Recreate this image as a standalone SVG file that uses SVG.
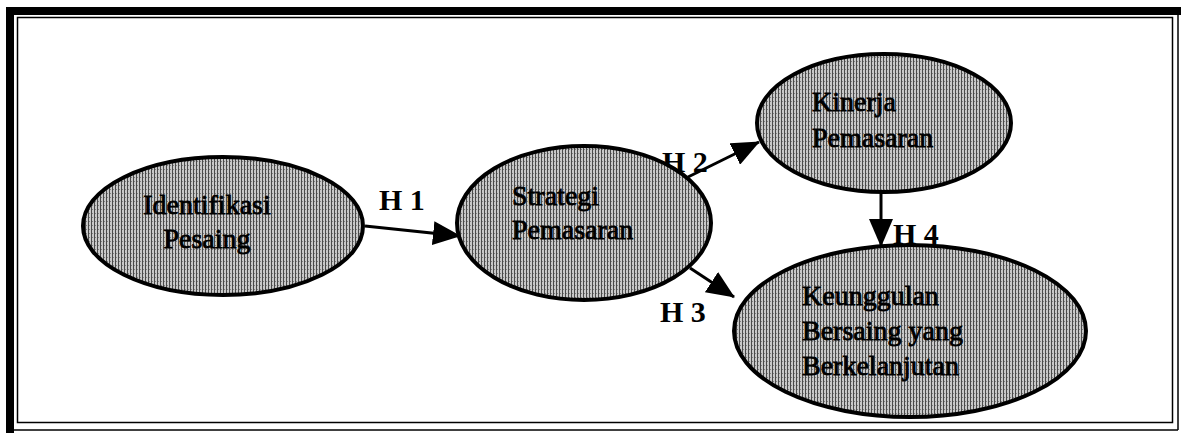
<svg xmlns="http://www.w3.org/2000/svg" width="1181" height="433" viewBox="0 0 1181 433">
  <style>
    .node ellipse { fill: url(#dither); stroke: #000; stroke-width: 4; }
    .node text { font-family: "Liberation Serif", "Times New Roman", serif; font-size: 28px; fill: #000; stroke: #000; stroke-width: 0.8; }
    .lbl { font-family: "Liberation Serif", "Times New Roman", serif; font-size: 30px; font-weight: bold; fill: #000; }
    .conn line { stroke: #000; stroke-width: 3; marker-end: url(#arrow); }
  </style>
  <defs>
    <pattern id="dither" patternUnits="userSpaceOnUse" width="3" height="4">
      <rect width="3" height="4" fill="#c8c8c8"/>
      <rect x="1" width="1" height="4" fill="#4a4a4a"/>
      <rect x="2" y="1" width="1" height="1" fill="#808080"/>
    </pattern>
    <marker id="arrow" markerUnits="userSpaceOnUse" markerWidth="28" markerHeight="24" refX="27" refY="12" orient="auto">
      <path d="M0,0 L28,12 L0,24 z" fill="#000"/>
    </marker>
  </defs>
  <rect width="1181" height="433" fill="#fff"/>
  <g id="frame">
    <rect x="6" y="7" width="1175" height="8" fill="#000"/>
    <rect x="6" y="7" width="8" height="426" fill="#000"/>
    <line x1="1178" y1="15" x2="1178" y2="430" stroke="#000" stroke-width="1.5"/>
    <line x1="14" y1="430" x2="1178" y2="430" stroke="#000" stroke-width="1.5"/>
    <rect x="17.5" y="17.5" width="1155" height="405" fill="none" stroke="#000" stroke-width="1.5"/>
  </g>
  <g id="connectors" class="conn">
    <line x1="365" y1="226" x2="460" y2="236"/>
    <line x1="688" y1="177" x2="759" y2="142"/>
    <line x1="690" y1="268" x2="734" y2="297"/>
    <line x1="881" y1="193" x2="881" y2="246"/>
  </g>
  <g id="labels">
    <text class="lbl" x="379" y="210">H 1</text>
    <text class="lbl" x="662" y="172">H 2</text>
    <text class="lbl" x="660" y="322">H 3</text>
    <text class="lbl" x="893" y="244">H 4</text>
  </g>
  <g id="node-identifikasi" class="node">
    <ellipse cx="223" cy="226" rx="140" ry="69"/>
    <text x="207" y="214" text-anchor="middle">Identifikasi</text>
    <text x="207" y="248" text-anchor="middle">Pesaing</text>
  </g>
  <g id="node-strategi" class="node">
    <ellipse cx="584" cy="223" rx="127" ry="77"/>
    <text x="512" y="205">Strategi</text>
    <text x="512" y="239">Pemasaran</text>
  </g>
  <g id="node-kinerja" class="node">
    <ellipse cx="884" cy="123" rx="127" ry="69"/>
    <text x="812" y="111">Kinerja</text>
    <text x="812" y="147">Pemasaran</text>
  </g>
  <g id="node-keunggulan" class="node">
    <ellipse cx="910" cy="331" rx="176" ry="86"/>
    <text x="802" y="305">Keunggulan</text>
    <text x="802" y="340">Bersaing yang</text>
    <text x="802" y="375">Berkelanjutan</text>
  </g>
</svg>
